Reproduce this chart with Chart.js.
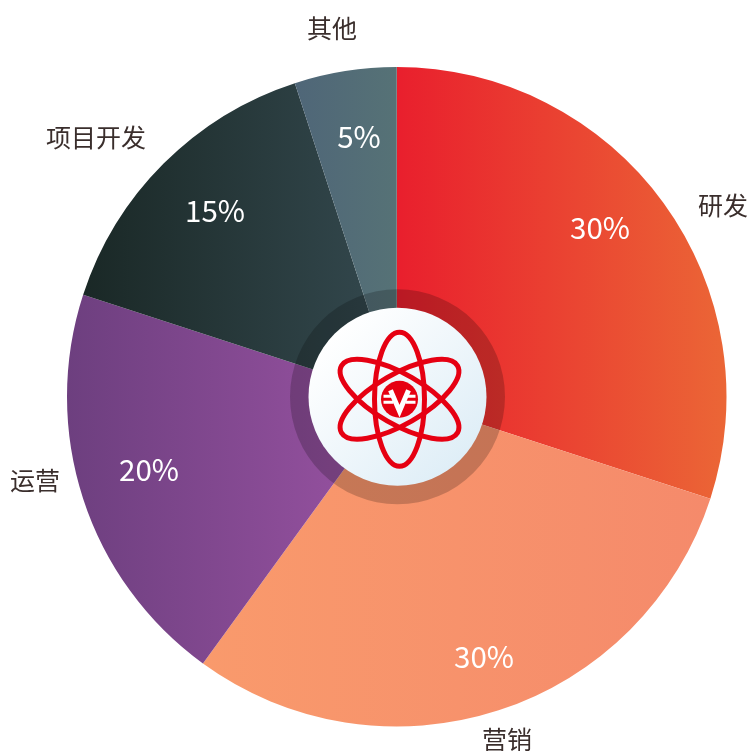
<!DOCTYPE html>
<html>
<head>
<meta charset="utf-8">
<style>
  html, body { margin: 0; padding: 0; background: #fff; }
  #wrap { width: 752px; height: 751px; }
</style>
<script src="https://cdn.jsdelivr.net/npm/chart.js@4"></script>
</head>
<body>
<div id="wrap"><canvas id="pieChart" width="752" height="751"></canvas></div>
<script>
const categories = ["研发", "营销", "运营", "项目开发", "其他"];
const shares = [30, 30, 20, 15, 5];
const startColors = ["#e91f2d", "#f99a6c", "#6d3f7f", "#1a2826", "#4f6678"];
const endColors = ["#eb6636", "#f58a6b", "#9a53a3", "#34494f", "#567276"];

// where the texts sit
const nameSpots = [[723, 205], [507, 739], [35, 480], [96, 137], [332, 28]];
const valueSpots = [[600, 228], [484, 657], [149, 470], [215, 211], [359, 137]];

const NAME_FONT = '25px "Noto Sans CJK SC", sans-serif';
const VALUE_FONT = '29.5px "Noto Sans CJK SC", sans-serif';
const ICON_RED = "#e60012";

// left and right limit of one slice, so its gradient runs across the slice only
function sliceRange(index, cx, r) {
  const total = shares.reduce((a, b) => a + b, 0);
  const before = shares.slice(0, index).reduce((a, b) => a + b, 0);
  const a0 = (before / total) * Math.PI * 2;
  const a1 = ((before + shares[index]) / total) * Math.PI * 2;
  const xs = [0, Math.sin(a0), Math.sin(a1)];
  if (a0 < Math.PI / 2 && a1 > Math.PI / 2) xs.push(1);
  if (a0 < Math.PI * 1.5 && a1 > Math.PI * 1.5) xs.push(-1);
  return [cx + r * Math.min(...xs), cx + r * Math.max(...xs)];
}

function sliceGradient(context) {
  const chart = context.chart;
  const area = chart.chartArea;
  const i = context.dataIndex;
  if (!area) return startColors[i];
  const cx = (area.left + area.right) / 2;
  const r = Math.min(area.right - area.left, area.bottom - area.top) / 2;
  const range = sliceRange(i, cx, r);
  const g = chart.ctx.createLinearGradient(range[0], 0, range[1], 0);
  g.addColorStop(0, startColors[i]);
  g.addColorStop(1, endColors[i]);
  return g;
}

function drawBadge(ctx, cx, cy) {
  // dark ring round the badge
  ctx.beginPath();
  ctx.arc(cx, cy, 107.5, 0, Math.PI * 2);
  ctx.arc(cx, cy, 88, 0, Math.PI * 2, true);
  ctx.fillStyle = "rgba(0,0,0,0.2)";
  ctx.fill();

  const bg = ctx.createLinearGradient(cx - 63, cy - 63, cx + 63, cy + 63);
  bg.addColorStop(0, "#ffffff");
  bg.addColorStop(1, "#dfeef7");
  ctx.beginPath();
  ctx.arc(cx, cy, 89, 0, Math.PI * 2);
  ctx.fillStyle = bg;
  ctx.fill();

  const ix = cx + 2;
  const iy = cy + 2.5;
  ctx.strokeStyle = ICON_RED;
  ctx.lineWidth = 5;
  [0, Math.PI / 3, -Math.PI / 3].forEach((rot) => {
    ctx.beginPath();
    ctx.ellipse(ix, iy, 25, 67, rot, 0, Math.PI * 2);
    ctx.stroke();
  });

  ctx.beginPath();
  ctx.arc(ix, iy, 18.5, 0, Math.PI * 2);
  ctx.fillStyle = ICON_RED;
  ctx.fill();

  // white V with short bars either side
  ctx.strokeStyle = "#fff";
  ctx.lineWidth = 3;
  [-3, 3].forEach((dy) => {
    ctx.beginPath();
    ctx.moveTo(ix - 16, iy + dy);
    ctx.lineTo(ix - 6, iy + dy);
    ctx.moveTo(ix + 6, iy + dy);
    ctx.lineTo(ix + 16, iy + dy);
    ctx.stroke();
  });
  ctx.lineWidth = 5;
  ctx.beginPath();
  ctx.moveTo(ix - 9, iy - 9);
  ctx.lineTo(ix, iy + 12);
  ctx.lineTo(ix + 9, iy - 9);
  ctx.stroke();
}

const badgeAndTexts = {
  id: "badgeAndTexts",
  afterDraw(chart) {
    const ctx = chart.ctx;
    const arc = chart.getDatasetMeta(0).data[0];
    ctx.save();
    drawBadge(ctx, arc.x + 0.75, arc.y);
    ctx.textAlign = "center";
    ctx.textBaseline = "middle";
    categories.forEach((name, i) => {
      ctx.font = NAME_FONT;
      ctx.fillStyle = "#3a2e2c";
      ctx.fillText(name, nameSpots[i][0], nameSpots[i][1]);
      ctx.font = VALUE_FONT;
      ctx.fillStyle = "#ffffff";
      ctx.fillText(shares[i] + "%", valueSpots[i][0], valueSpots[i][1]);
    });
    ctx.restore();
  },
};

new Chart(document.getElementById("pieChart"), {
  type: "pie",
  data: {
    labels: categories,
    datasets: [
      {
        data: shares,
        backgroundColor: sliceGradient,
        borderWidth: 0,
      },
    ],
  },
  options: {
    responsive: false,
    animation: false,
    layout: { padding: { left: 67, top: 67, right: 25.5, bottom: 24.5 } },
    plugins: {
      legend: { display: false },
      tooltip: { enabled: false },
    },
  },
  plugins: [badgeAndTexts],
});
</script>
</body>
</html>
